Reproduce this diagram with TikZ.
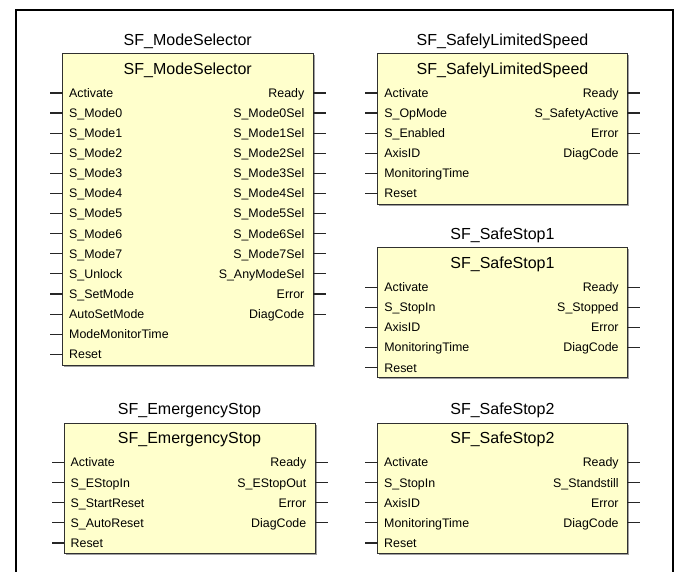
\documentclass[tikz,border=0pt]{standalone}
\usepackage{fontspec}
\setmainfont{Liberation Sans}
\usetikzlibrary{calc}
\definecolor{fbfill}{HTML}{FFFFCC}
\definecolor{fbline}{HTML}{303030}
\definecolor{fbshadow}{HTML}{A0A0A0}
\tikzset{
  fbbox/.style={draw=fbline, fill=fbfill, line width=1pt, inner sep=0pt, outer sep=0pt, anchor=north west},
  fbttl/.style={inner sep=0pt, font=\fontsize{16}{19}\selectfont, text height=11.5pt, text depth=0pt},
  fblab/.style={inner sep=0pt, font=\fontsize{12.4}{14}\selectfont, text height=8.8pt, text depth=0pt},
  fbpin/.style={draw=black!85, line width=1.2pt},
  frameline/.style={draw=black, line width=2pt}
}
\newcommand\fbblock[8]{%
  \fill[fbshadow] (#2+1.5,#3+1.5) rectangle (#4+1.5,#8+1.5);
  \node[fbbox, minimum width={#4-#2}, minimum height={#8-#3}] (#1) at (#2,#3) {};
  \node[fbttl] (#1-above) at ([yshift=14pt]#1.north) {#5};
  \node[fbttl] (#1-inner) at ([yshift=-15pt]#1.north) {#5};
  \foreach \lab [count=\i from 0] in {#6} {
    \node[fblab, anchor=west] (#1-in\i) at ([xshift=6.5pt, yshift={-(39.5+20.1*\i)}]#1.north west) {\lab};
    \draw[fbpin] (#1-in\i.west -| #1.west) -- ++(-12.5,0);
  }
  \foreach \lab [count=\i from 0] in {#7} {
    \node[fblab, anchor=east] (#1-out\i) at ([xshift=-8.5pt, yshift={-(39.5+20.1*\i)}]#1.north east) {\lab};
    \draw[fbpin] (#1-out\i.east -| #1.east) -- ++(12.5,0);
  }
}
\begin{document}
\begin{tikzpicture}[x=1pt, y=-1pt]
\useasboundingbox (0,0) rectangle (675,572);
\fill[white] (0,0) rectangle (675,572);
\draw[frameline] (16,580) -- (16,10.5) -- (673,10.5) -- (673,580);

\fbblock{ms}{62.5}{53.5}{313}{SF\_ModeSelector}
  {Activate, S\_Mode0, S\_Mode1, S\_Mode2, S\_Mode3, S\_Mode4, S\_Mode5, S\_Mode6, S\_Mode7, S\_Unlock, S\_SetMode, AutoSetMode, ModeMonitorTime, Reset}
  {Ready, S\_Mode0Sel, S\_Mode1Sel, S\_Mode2Sel, S\_Mode3Sel, S\_Mode4Sel, S\_Mode5Sel, S\_Mode6Sel, S\_Mode7Sel, S\_AnyModeSel, Error, DiagCode}
  {365}

\fbblock{sls}{377.7}{53.5}{627.3}{SF\_SafelyLimitedSpeed}
  {Activate, S\_OpMode, S\_Enabled, AxisID, MonitoringTime, Reset}
  {Ready, S\_SafetyActive, Error, DiagCode}
  {204.3}

\fbblock{ss1}{377.7}{247.7}{627.3}{SF\_SafeStop1}
  {Activate, S\_StopIn, AxisID, MonitoringTime, Reset}
  {Ready, S\_Stopped, Error, DiagCode}
  {377.8}

\fbblock{es}{64}{423}{315}{SF\_EmergencyStop}
  {Activate, S\_EStopIn, S\_StartReset, S\_AutoReset, Reset}
  {Ready, S\_EStopOut, Error, DiagCode}
  {553.4}

\fbblock{ss2}{377.5}{423}{627.3}{SF\_SafeStop2}
  {Activate, S\_StopIn, AxisID, MonitoringTime, Reset}
  {Ready, S\_Standstill, Error, DiagCode}
  {553.4}
\end{tikzpicture}
\end{document}
